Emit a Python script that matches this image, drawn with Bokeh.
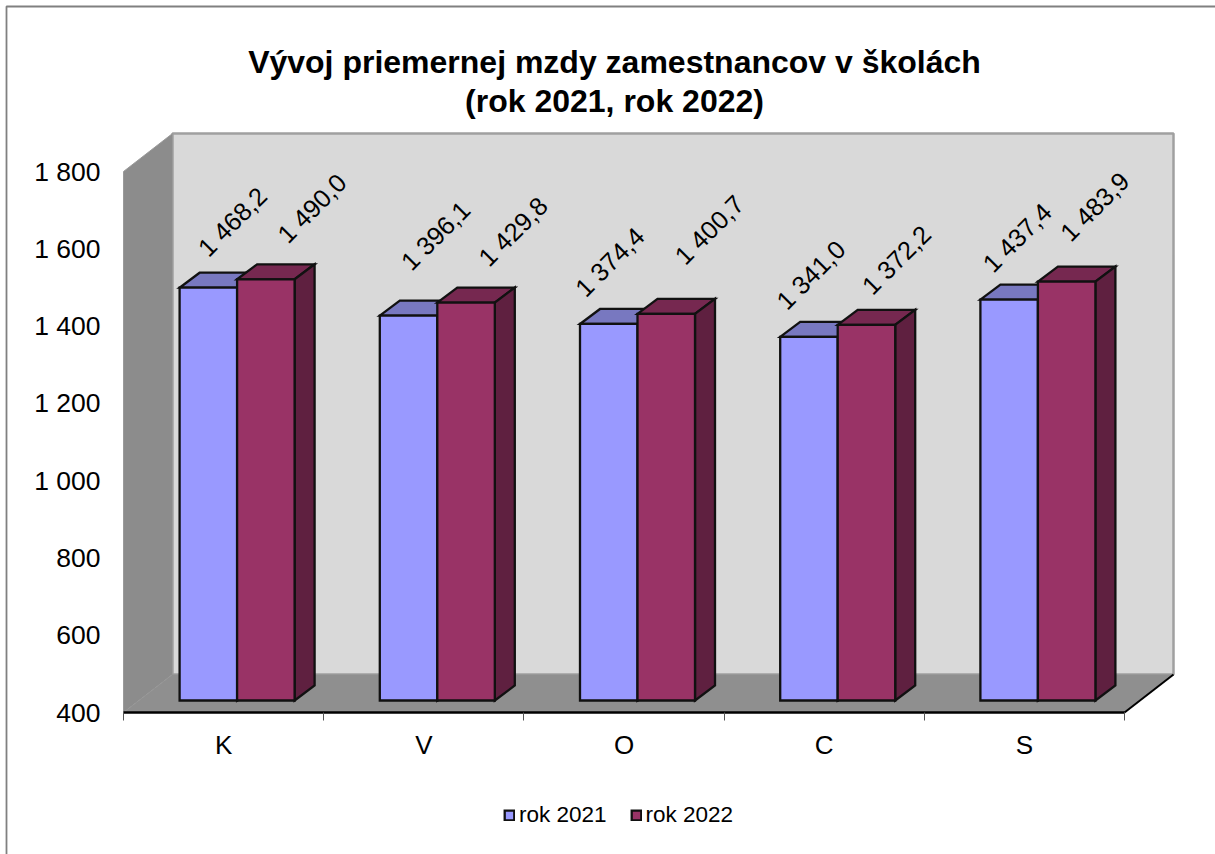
from bokeh.plotting import figure
from bokeh.embed import file_html
from bokeh.resources import INLINE
from bokeh.models import (Range1d, FixedTicker, Label, Legend, LegendItem, PolyAnnotation, ColumnDataSource)
from bokeh.core.properties import value

title_lines = ["Vývoj priemernej mzdy zamestnancov v školách", "(rok 2021, rok 2022)"]
categories = ["K", "V", "O", "C", "S"]
series_names = ["rok 2021", "rok 2022"]
rok_2021 = [1468.2, 1396.1, 1374.4, 1341.0, 1437.4]
rok_2022 = [1490.0, 1429.8, 1400.7, 1372.2, 1483.9]
value_ticks = [400, 600, 800, 1000, 1200, 1400, 1600, 1800]

# hand placement of the data labels, screen px (as in the original chart)
nudge_2021 = [(24, 66), (27, 80), (1, 62), (2, 62), (8, 62)]
nudge_2022 = [(46, 71), (47, 71), (43, 84), (30, 65), (28, 75)]

FONT = "Liberation Sans"
W, H = 1215, 854
LEFT, BOTTOM_Y = 123, 712          # canvas position of category 0 / value 400
PX_X = 200.2                       # px per category
PX_Y = 541 / 1400                  # px per value unit
fmt = lambda v: f"{v:,.0f}".replace(",", " ")
fmt1 = lambda v: f"{v:,.1f}".replace(",", " ").replace(".", ",")

p = figure(width=W, height=H, output_backend="svg", toolbar_location=None,
           x_range=Range1d(-LEFT / PX_X, (W - LEFT) / PX_X),
           y_range=Range1d(400 - (H - BOTTOM_Y) / PX_Y, 400 + BOTTOM_Y / PX_Y),
           min_border_left=0, min_border_right=0, min_border_top=0,
           min_border_bottom=0, outline_line_color=None)
p.margin = (0, 0, 0, 0)
p.grid.visible = False

# --- axes
ya = p.yaxis[0]
ya.fixed_location = 0
ya.ticker = FixedTicker(ticks=value_ticks)
ya.major_label_overrides = {v: fmt(v) for v in value_ticks}
ya.axis_line_color = None
ya.major_tick_line_color = None
ya.minor_tick_line_color = None
ya.major_label_text_font = FONT
ya.major_label_text_font_size = "26.5px"
ya.major_label_text_color = "#000000"
ya.major_label_standoff = 17

xa = p.xaxis[0]
xa.fixed_location = 400
n = len(categories)
xa.ticker = FixedTicker(ticks=[i + 0.5 for i in range(n)], minor_ticks=list(range(n + 1)))
xa.major_label_overrides = {i + 0.5: c for i, c in enumerate(categories)}
xa.bounds = (0, n)
xa.axis_line_color = "#000000"
xa.axis_line_width = 2.5
xa.major_tick_line_color = None
xa.major_tick_in = 0
xa.major_tick_out = 0
xa.minor_tick_line_color = "#555555"
xa.minor_tick_in = 0
xa.minor_tick_out = 8
xa.major_label_text_font = FONT
xa.major_label_text_font_size = "26px"
xa.major_label_text_color = "#000000"
xa.major_label_standoff = 9

# --- 3D box of the plot (depth expressed in data units)
dx, dy = 49 / PX_X, 38 / PX_Y
lo, hi = value_ticks[0], value_ticks[-1]
p.patch([dx, n + dx, n + dx, dx], [lo + dy, lo + dy, hi + dy, hi + dy],
        fill_color="#d9d9d9", line_color="#a0a0a0", line_width=2.5)
p.patch([0, dx, dx, 0], [lo, lo + dy, hi + dy, hi], fill_color="#8c8c8c", line_color="#9a9a9a", line_width=1)
p.patch([0, dx, n + dx, n], [lo, lo + dy, lo + dy, lo], fill_color="#8f8f8f", line_color=None)
p.line([n, n + dx], [lo, lo + dy], line_color="#000000", line_width=2)

# --- bars
bw = 57.5 / PX_X
off_x = 13.5 / PX_X
off_y = 12 / PX_Y
bar_dx, bar_dy = 20 / PX_X, 15 / PX_Y
front = ["#9999ff", "#993366"]
top = ["#7878c0", "#762850"]
side = ["#5d5da0", "#5f2040"]
OUT = "#111111"
LW = 2.3
renderers = []
label_src = dict(x=[], y=[], t=[], ox=[], oy=[])
for i in range(n):
    for s, (vals, nudges) in enumerate(((rok_2021, nudge_2021), (rok_2022, nudge_2022))):
        v = vals[i]
        l = i + 0.5 + off_x - bw + s * bw
        r = l + bw
        b = lo + off_y
        t = v + off_y
        p.patch([l, l + bar_dx, r + bar_dx, r], [t, t + bar_dy, t + bar_dy, t],
                fill_color=top[s], line_color=OUT, line_width=LW, line_join="miter")
        p.patch([r, r + bar_dx, r + bar_dx, r], [b, b + bar_dy, t + bar_dy, t],
                fill_color=side[s], line_color=OUT, line_width=LW, line_join="miter")
        q = p.quad(left=l, right=r, bottom=b, top=t, fill_color=front[s],
                   line_color=OUT, line_width=LW, line_join="miter")
        if i == 0:
            renderers.append(q)
        label_src["x"].append(l + bw / 2)
        label_src["y"].append(t)
        label_src["t"].append(fmt1(v))
        label_src["ox"].append(nudges[i][0])
        label_src["oy"].append(-nudges[i][1])

p.text(x="x", y="y", text="t", source=ColumnDataSource(label_src), x_offset="ox", y_offset="oy",
       angle=45, angle_units="deg", text_align="center", text_baseline="middle",
       text_font=value(FONT), text_font_size="25.5px", text_color="#000000")

# --- title
for line, sy in zip(title_lines, (61, 100)):
    p.add_layout(Label(x=614, y=H - sy, x_units="screen", y_units="screen", text=line,
                       text_font=FONT, text_font_size="32px", text_font_style="bold",
                       text_color="#000000", text_align="center", text_baseline="middle"))

# --- legend
legend = Legend(items=[LegendItem(label=name, renderers=[r]) for name, r in zip(series_names, renderers)],
                location=(503, 26), orientation="horizontal", background_fill_alpha=0,
                border_line_color=None, glyph_width=12, glyph_height=12, label_standoff=4,
                spacing=23, padding=0, margin=0, label_text_font=FONT, label_text_font_size="22.5px",
                label_text_color="#000000")
p.add_layout(legend, "center")

# --- chart area border (open on the cut-off sides)
p.add_layout(PolyAnnotation(xs=[6, 6, W + 5, W + 5], ys=[-5, H - 6, H - 6, -5], xs_units="screen", ys_units="screen",
                            fill_alpha=0, line_color="#808080", line_alpha=1, line_width=1.8))

open("out.html", "w").write(file_html(p, INLINE))
